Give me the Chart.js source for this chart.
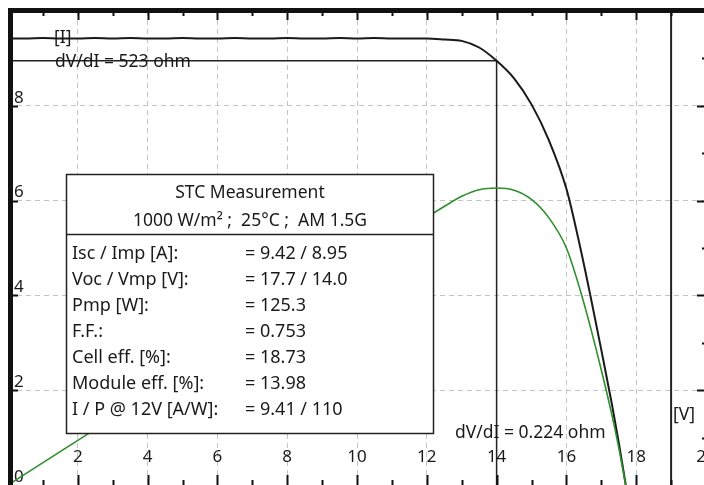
<!DOCTYPE html>
<html>
<head>
<meta charset="utf-8">
<script src="https://cdn.jsdelivr.net/npm/chart.js@4.4.1/dist/chart.umd.min.js"></script>
<style>
  html, body { margin: 0; padding: 0; background: #fff; overflow: hidden; }
  #wrap { position: relative; width: 704px; height: 485px; overflow: hidden; }
  canvas { position: absolute; left: 0; top: 0; }
</style>
</head>
<body>
<div id="wrap"><canvas id="ivChart" width="712" height="485"></canvas></div>
<script>
// I-V curve (V, A)
const voltage = [0, 0.5, 1, 1.5, 2, 2.5, 3, 3.5, 4, 4.5, 5, 5.5, 6, 6.5, 7, 7.5, 8, 8.5, 9, 9.5,
  10, 10.5, 11, 11.5, 12, 12.5, 13, 13.5, 14, 14.5, 15, 15.5, 16, 16.4, 16.7, 17.0, 17.3, 17.5, 17.7];
const current = [9.42, 9.42, 9.43, 9.42, 9.42, 9.43, 9.42, 9.43, 9.42, 9.42, 9.43, 9.42, 9.42, 9.43, 9.42, 9.42, 9.43, 9.42, 9.42, 9.43,
  9.42, 9.43, 9.42, 9.42, 9.42, 9.40, 9.37, 9.23, 8.95, 8.58, 8.03, 7.27, 6.25, 5.0, 3.95, 2.85, 1.72, 0.9, 0];

// P-V curve (V, W) on the right axis 0..200
const powerVolt = [0, 2, 4, 6, 8, 10, 11, 12, 12.5, 13, 13.5, 14, 14.5, 15, 15.5, 16, 16.4, 16.7, 17.0, 17.3, 17.5, 17.7];
const power = [0, 18.8, 37.7, 56.5, 75.4, 94.2, 103.6, 113.0, 117.5, 121.8, 124.6, 125.3, 124.4, 120.5, 112.7, 100.0, 82.0, 66.0, 48.5, 29.8, 15.8, 0];

// maximum power point and the marker line
const imp = 8.95;
const vmp = 14.0;
const markerV = 19;

const stcTitle = ["STC Measurement", "1000 W/m\u00b2 ;  25\u00b0C ;  AM 1.5G"];
const stcLabels = ["Isc / Imp [A]:", "Voc / Vmp [V]:", "Pmp [W]:", "F.F.:", "Cell eff. [%]:", "Module eff. [%]:", "I / P @ 12V [A/W]:"];
const stcValues = ["= 9.42 / 8.95", "= 17.7 / 14.0", "= 125.3", "= 0.753", "= 18.73", "= 13.98", "= 9.41 / 110"];

const FONT = '"Noto Sans", "DejaVu Sans", sans-serif';

function pairs(xs, ys) {
  return xs.map((v, i) => ({ x: v, y: ys[i] }));
}

// frame, inward ticks, info box and notes
const frame = {
  id: "frame",
  afterDatasetsDraw(chart) {
    const ctx = chart.ctx;
    ctx.save();
    // info box
    ctx.fillStyle = "#fff";
    ctx.fillRect(66, 174, 367, 259);
    ctx.strokeStyle = "#222";
    ctx.lineWidth = 1.5;
    ctx.strokeRect(66.5, 174.5, 367, 259);
    ctx.beginPath();
    ctx.moveTo(66, 234.5);
    ctx.lineTo(433, 234.5);
    ctx.stroke();

    ctx.fillStyle = "#1a1a1a";
    ctx.font = "17.5px " + FONT;
    ctx.textBaseline = "middle";
    ctx.textAlign = "center";
    ctx.fillText(stcTitle[0], 250, 193);
    ctx.fillText(stcTitle[1], 250, 221);
    ctx.font = "18px " + FONT;
    ctx.textAlign = "left";
    stcLabels.forEach((t, i) => {
      const yy = 254 + i * 26;
      ctx.fillText(t, 72, yy);
      ctx.fillText(stcValues[i], 245, yy);
    });
    ctx.restore();
  },
  afterDraw(chart) {
    const ctx = chart.ctx;
    const a = chart.chartArea;
    const sx = chart.scales.x, sy = chart.scales.y, sp = chart.scales.p;
    ctx.save();
    ctx.fillStyle = "#111";
    ctx.fillRect(a.left, 8, chart.width, 5);
    ctx.fillRect(a.left, 8, 5, a.bottom);

    ctx.strokeStyle = "#111";
    ctx.lineWidth = 2;
    ctx.beginPath();
    for (let v = 1; v <= 20; v++) {
      const px = Math.round(sx.getPixelForValue(v)) + 0.5;
      const even = v % 2 === 0;
      ctx.moveTo(px, 13);
      ctx.lineTo(px, 13 + (even ? 7 : 3));
      ctx.moveTo(px, a.bottom);
      ctx.lineTo(px, a.bottom - (even ? 10 : 5));
    }
    for (let v = 2; v <= 8; v += 2) {
      const py = Math.round(sy.getPixelForValue(v)) + 0.5;
      ctx.moveTo(13, py);
      ctx.lineTo(18, py);
    }
    for (let w = 20; w < 200; w += 20) {
      const py = Math.round(sp.getPixelForValue(w)) + 0.5;
      ctx.moveTo(a.right, py);
      ctx.lineTo(a.right - (w % 40 === 0 ? 9 : 4), py);
    }
    ctx.stroke();

    ctx.fillStyle = "#1a1a1a";
    ctx.font = "17.5px " + FONT;
    ctx.textBaseline = "middle";
    ctx.textAlign = "left";
    ctx.fillText("[I]", 54, 38);
    ctx.fillText("dV/dI = 523 ohm", 55, 62);
    ctx.fillText("dV/dI = 0.224 ohm", 455, 433);
    ctx.fillText("[V]", 673, 415);
    ctx.restore();
  }
};

const tickFont = { family: FONT, size: 17 };

// scales take no room: labels sit inside the plot
function noRoomX(s) { s.height = 0; s.paddingLeft = 0; s.paddingRight = 0; }
function noRoomY(s) { s.width = 0; s.paddingTop = 0; s.paddingBottom = 0; }

new Chart(document.getElementById("ivChart"), {
  type: "scatter",
  data: {
    datasets: [
      {
        data: pairs(powerVolt, power),
        yAxisID: "p",
        showLine: true,
        borderColor: "#2f8f2f",
        borderWidth: 1.6,
        pointRadius: 0,
        cubicInterpolationMode: "monotone"
      },
      {
        data: pairs(voltage, current),
        yAxisID: "y",
        showLine: true,
        borderColor: "#1a1a1a",
        borderWidth: 2,
        pointRadius: 0,
        cubicInterpolationMode: "monotone"
      },
      {
        data: pairs([0, vmp, vmp], [imp, imp, 0]),
        yAxisID: "y",
        showLine: true,
        borderColor: "#222",
        borderWidth: 1.5,
        pointRadius: 0
      },
      {
        data: pairs([markerV, markerV], [0, 10]),
        yAxisID: "y",
        showLine: true,
        borderColor: "#222",
        borderWidth: 2,
        pointRadius: 0
      }
    ]
  },
  options: {
    responsive: false,
    animation: false,
    layout: { padding: { left: 8, right: 6, top: 11, bottom: 0 } },
    plugins: { legend: { display: false }, tooltip: { enabled: false } },
    scales: {
      x: {
        type: "linear",
        min: 0,
        max: 20,
        afterFit: noRoomX,
        border: { display: false, dash: [5, 4] },
        grid: { color: "#c4c4c4", lineWidth: 1, drawTicks: false },
        ticks: {
          stepSize: 2,
          mirror: true,
          padding: 18,
          maxRotation: 0,
          autoSkip: false,
          color: "#1a1a1a",
          font: tickFont,
          callback: v => (v === 0 ? "" : v)
        }
      },
      y: {
        min: 0,
        max: 10,
        afterFit: noRoomY,
        border: { display: false, dash: [5, 4] },
        grid: { color: "#c4c4c4", lineWidth: 1, drawTicks: false },
        ticks: {
          stepSize: 2,
          mirror: true,
          padding: 6,
          labelOffset: -8,
          color: "#1a1a1a",
          font: tickFont,
          callback: v => (v === 10 ? "" : v)
        }
      },
      p: { position: "right", min: 0, max: 200, display: false }
    }
  },
  plugins: [frame]
});
</script>
</body>
</html>
